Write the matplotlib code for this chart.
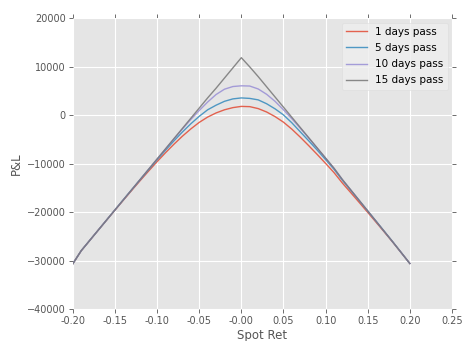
import numpy as np
import matplotlib
matplotlib.use("Agg")
import matplotlib.pyplot as plt

# spot return grid
spot_ret = [-0.20, -0.19, -0.18, -0.17, -0.16, -0.15, -0.14, -0.13, -0.12, -0.11,
            -0.10, -0.09, -0.08, -0.07, -0.06, -0.05, -0.04, -0.03, -0.02, -0.01,
            0.00, 0.01, 0.02, 0.03, 0.04, 0.05, 0.06, 0.07, 0.08, 0.09,
            0.10, 0.11, 0.12, 0.13, 0.14, 0.15, 0.16, 0.17, 0.18, 0.19, 0.20]

# P&L
pnl_1d = [-30600, -27910, -25815, -23710, -21625, -19550, -17490, -15450, -13440, -11470,
          -9550, -7700, -5950, -4300, -2800, -1450, -350, 500, 1150, 1600,
          1850, 1800, 1400, 700, -250, -1400, -2850, -4500, -6250, -8050,
          -9900, -11800, -13970, -15960, -17970, -20000, -22050, -24120, -26210, -28375, -30550]
pnl_5d = [-30600, -27900, -25800, -23700, -21600, -19500, -17400, -15320, -13250, -11200,
          -9170, -7190, -5260, -3440, -1740, -200, 1150, 2100, 2900, 3400,
          3600, 3500, 3200, 2400, 1350, 100, -1540, -3400, -5250, -7150,
          -9120, -11120, -13400, -15500, -17610, -19730, -21850, -24000, -26150, -28350, -30550]
pnl_10d = [-30600, -27900, -25800, -23700, -21600, -19500, -17400, -15300, -13200, -11100,
           -9010, -6930, -4860, -2830, -850, 1000, 2750, 4300, 5400, 5950,
           6100, 6050, 5450, 4350, 2900, 1150, -700, -2670, -4690, -6750,
           -8820, -10900, -13250, -15400, -17550, -19700, -21850, -24000, -26150, -28350, -30550]
pnl_15d = [-30600, -27900, -25800, -23700, -21600, -19500, -17400, -15300, -13200, -11100,
           -9000, -6900, -4800, -2700, -600, 1500, 3600, 5600, 7700, 9800,
           11900, 10000, 8000, 5900, 3800, 1700, -400, -2500, -4600, -6700,
           -8800, -10900, -13250, -15400, -17550, -19700, -21850, -24000, -26150, -28350, -30550]

labels = ["1 days pass", "5 days pass", "10 days pass", "15 days pass"]
colors = ["#E24A33", "#348ABD", "#988ED5", "#777777"]

fig = plt.figure(figsize=(4.64, 3.41), dpi=100)
ax = fig.add_axes([0.157, 0.093, 0.817, 0.853])
ax.set_facecolor("#E5E5E5")
for s in ax.spines.values():
    s.set_visible(False)
ax.grid(True, color="white", linewidth=0.8)
ax.set_axisbelow(True)

for y, lab, c in zip([pnl_1d, pnl_5d, pnl_10d, pnl_15d], labels, colors):
    ax.plot(spot_ret, y, color=c, lw=1.0, alpha=0.85, label=lab)

ax.set_xlim(-0.2, 0.25)
ax.set_ylim(-40000, 20000)
ax.set_xticks(np.arange(-0.2, 0.2501, 0.05))
ax.set_xticklabels(["%.2f" % v for v in np.arange(-0.2, 0.2501, 0.05)])
ax.set_yticks(range(-40000, 20001, 10000))
ax.tick_params(direction="out", length=3, width=0.6, color="#555555",
               labelcolor="#555555", labelsize=7, top=True, right=True, pad=2)
ax.set_xlabel("Spot Ret", fontsize=8.5, color="#555555", labelpad=2)
ax.set_ylabel("P&L", fontsize=8.5, color="#555555", labelpad=3)

leg = ax.legend(loc="upper right", fontsize=7.5, handlelength=2, frameon=True,
                borderaxespad=0.4, labelspacing=0.6)
leg.get_frame().set_facecolor("#EEEEEE")
leg.get_frame().set_edgecolor("#DDDDDD")
leg.get_frame().set_linewidth(0.5)

fig.savefig("out.png", dpi=100)
